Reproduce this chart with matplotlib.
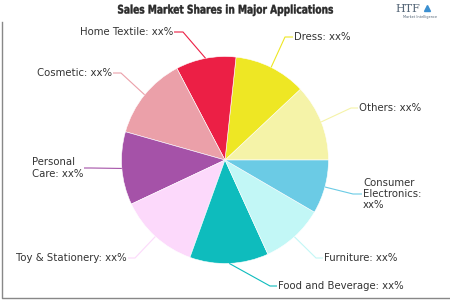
import numpy as np
import matplotlib.pyplot as plt
from matplotlib.textpath import TextPath
from matplotlib.patches import PathPatch
from matplotlib.font_manager import FontProperties
from matplotlib.transforms import Affine2D

categories = ['Others', 'Dress', 'Home Textile', 'Cosmetic', 'Personal\nCare',
              'Toy & Stationery', 'Food and Beverage', 'Furniture',
              'Consumer\nElectronics:\n']
shares = [12.0, 11.3, 9.4, 12.9, 11.4, 12.5, 12.3, 9.8, 8.4]
colors = ['#f5f3a8', '#eee724', '#ec1f45', '#eba0a9', '#a552a8',
          '#fcd9fb', '#0ebcbd', '#c2f7f6', '#6bcbe5']
title = 'Sales Market Shares in Major Applications'

# label layout in pixels from top-left: text x, text y, alignment, elbow x
label_pos = [
    (358, 108, 'left', 351),
    (293, 37, 'left', 285),
    (174, 32, 'right', 183),
    (113, 73, 'right', 121),
    (84, 168, 'right', 91),
    (128, 258, 'right', 135),
    (277, 286, 'left', 270),
    (323, 258, 'left', 316),
    (362, 194, 'left', 353),
]

H = 300
cx, cy, r = 225, H - 160, 103.5

fig = plt.figure(figsize=(4.5, 3), dpi=100)
ax = fig.add_axes([0, 0, 1, 1])

wedges, _ = ax.pie(shares, colors=colors, center=(cx, cy), radius=r,
                   startangle=0, counterclock=True,
                   wedgeprops=dict(edgecolor='white', linewidth=0.4))
ax.set_xlim(0, 450)
ax.set_ylim(0, H)
ax.axis('off')

for w, name, (tx, ty, ha, ex) in zip(wedges, categories, label_pos):
    mid = np.deg2rad((w.theta1 + w.theta2) / 2)
    x0 = cx + r * np.cos(mid)
    y0 = cy + r * np.sin(mid)
    ey = H - ty
    ax.plot([x0, ex, tx], [y0, ey, ey], color=w.get_facecolor(), lw=0.8,
            solid_capstyle='butt', zorder=1)
    if name.endswith(':\n'):
        txt = name + 'xx%'
    else:
        txt = name + ': xx%'
    ax.text(tx + (1 if ha == 'left' else -1), ey, txt, ha=ha, va='center',
            fontsize=7.3, color='#333333', multialignment='left',
            linespacing=1.15)

# condensed bold title drawn as a path
tp = TextPath((0, 0), title, size=11.8,
              prop=FontProperties(family='DejaVu Sans', weight='bold'))
ext = tp.get_extents()
sx = 215 / ext.width
tr = Affine2D().translate(-ext.x0, 0).scale(sx, 1).translate(118, H - 13.5)
ax.add_patch(PathPatch(tr.transform_path(tp), facecolor='#2a2a2a',
                       edgecolor='#2a2a2a', lw=0.3))

# logo
fig.text(408 / 450, 1 - 9 / H, 'HTF', ha='center', va='center', fontsize=8,
         family='DejaVu Serif', color='#556677')
fig.text(420 / 450, 1 - 17 / H, 'Market Intelligence', ha='center', va='center',
         fontsize=2.5, color='#556677')
ax.plot([427], [H - 8], marker='^', color='#3b8fd0', markersize=5)

# frame
ax.plot([2, 2, 450], [H - 22, H - 298, H - 298], color='#888888', lw=1,
        clip_on=False)

fig.savefig('out.png', dpi=100)
